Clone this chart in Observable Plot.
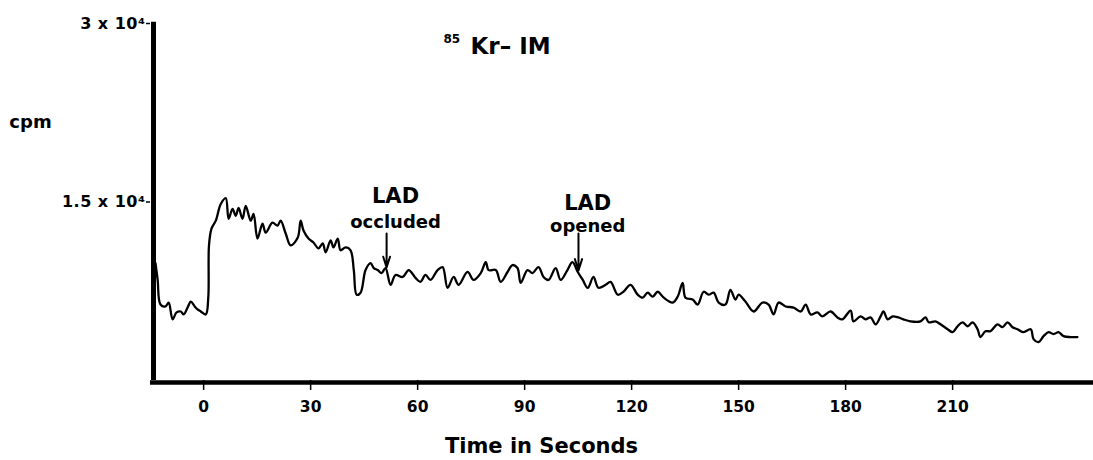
<!DOCTYPE html>
<html><head><meta charset="utf-8">
<script src="https://cdn.jsdelivr.net/npm/d3@7"></script>
<script src="https://cdn.jsdelivr.net/npm/@observablehq/plot@0.6"></script>
<style>
html,body{margin:0;padding:0;background:#fff;}
#chart svg{display:block;}
g[aria-label="y-axis tick label"] text{letter-spacing:0.5px;}
</style></head><body><div id="chart"></div>
<script>
// Time in seconds
const times = [
-13.5, -12.9, -12.1, -10.7, -9.8, -8.7, -7.6, -6.4, -5.6, -4.5,
-3.6, -2.5, -1.7, -0.8, 0.6, 1.3, 1.5, 2.2, 3.4, 4.8,
6.2, 7.0, 8.1, 9.0, 9.8, 10.9, 11.8, 13.2, 14.0, 15.1,
16.5, 17.4, 19.3, 20.7, 21.6, 23.0, 24.4, 26.4, 27.2, 28.0,
29.4, 30.8, 32.2, 33.4, 34.2, 35.6, 36.4, 37.6, 38.4, 39.8,
41.2, 42.1, 42.9, 44.0, 45.4, 46.8, 47.7, 48.8, 49.9, 51.0,
52.4, 53.8, 55.8, 57.5, 59.4, 60.8, 62.2, 63.6, 65.6, 67.0,
68.4, 70.1, 71.5, 74.0, 75.7, 77.7, 79.1, 79.9, 81.9, 83.3,
85.2, 86.6, 88.0, 88.9, 90.8, 92.2, 93.9, 95.3, 96.7, 98.7,
100.1, 102.0, 103.4, 104.9, 106.3, 107.7, 109.3, 110.7, 112.7, 114.1,
116.1, 117.7, 119.7, 121.7, 123.1, 124.5, 125.9, 127.3, 129.0, 131.5,
132.9, 134.3, 135.1, 137.1, 138.5, 140.2, 141.6, 143.0, 144.4, 146.3,
147.7, 149.1, 150.0, 151.9, 154.2, 156.7, 158.4, 159.8, 161.2, 163.2,
165.4, 167.4, 168.8, 170.2, 172.1, 173.5, 175.8, 177.7, 179.1, 181.4,
182.2, 184.2, 185.6, 187.0, 188.4, 189.8, 190.6, 191.8, 193.2, 194.8,
196.2, 198.2, 201.0, 202.4, 203.3, 205.2, 206.6, 208.6, 210.0, 211.4,
212.8, 214.2, 215.6, 217.0, 217.8, 219.2, 220.6, 222.6, 224.0, 225.4,
226.8, 228.2, 229.9, 231.9, 232.7, 234.1, 235.5, 236.9, 238.3, 239.7,
241.1, 243.1, 245.0
];
// Counts per minute
const counts = [
9860, 8450, 6380, 6220, 6550, 5140, 5720, 5800, 5550, 6130,
6630, 6220, 5970, 5800, 5550, 6960, 11350, 12760, 13430, 14830,
15330, 13590, 14420, 13840, 14500, 13590, 14670, 13430, 14000, 11930,
13180, 12430, 13260, 13010, 13430, 12350, 11350, 12020, 13430, 12600,
11930, 11600, 11100, 11520, 10770, 11770, 11190, 11930, 10940, 11190,
10940, 9280, 7210, 7380, 9280, 9860, 9450, 9280, 9030, 9450,
8040, 8870, 8700, 9280, 8620, 8290, 8870, 8450, 9280, 9530,
7790, 8700, 8040, 9120, 8450, 9030, 9940, 9280, 9280, 8290,
9120, 9700, 9450, 8200, 9280, 9030, 9530, 8700, 8450, 9450,
8450, 9280, 9940, 9120, 8450, 7790, 8700, 7790, 8040, 8290,
7210, 7460, 8040, 7210, 6960, 7380, 7040, 7460, 6960, 6550,
7040, 8200, 6960, 6800, 6380, 7460, 7210, 7380, 6550, 6380,
7620, 6800, 7210, 6630, 5800, 6550, 6380, 5550, 6550, 6220,
6130, 5800, 6380, 5550, 5720, 5390, 5800, 5300, 5140, 5880,
4970, 5390, 5140, 5300, 4720, 5390, 5800, 5140, 5390, 5300,
5140, 4970, 4970, 5300, 4890, 4970, 4720, 4310, 4060, 4560,
4890, 4560, 4890, 4310, 3650, 4140, 4140, 4720, 4480, 4890,
4480, 4310, 4060, 4310, 3480, 3230, 3730, 4060, 3900, 4060,
3730, 3650, 3650
];
const xTicks = [0, 30, 60, 90, 120, 150, 180, 210];
const yTicks = [15000, 30000];
const yTickLabels = ["1.5 x 10⁴", "3 x 10⁴"];
const xDomain = [-14.9, 249.5];
const yDomain = [0, 30000];

// Annotations
const eventWords = ["occluded", "opened"];
const eventTimes = [51.3, 105.1];
const eventLabelTimes = [53.8, 107.7];
const arrowTops = [12350, 12350];
const arrowTips = [9490, 9240];
const ladLabelY = [15450, 14900];
const wordLabelY = [13300, 12950];

const titleIsotope = "85";
const titleText = "Kr– IM";
const yLabel = "cpm";
const xLabel = "Time in Seconds";

const series = times.map((t, i) => ({t, c: counts[i]}));
const events = eventWords.map((w, i) => ({
  word: w, t: eventTimes[i], tl: eventLabelTimes[i],
  top: arrowTops[i], tip: arrowTips[i], ly: ladLabelY[i], wy: wordLabelY[i]
}));

const chart = Plot.plot({
  width: 1093, height: 460,
  marginLeft: 150, marginRight: 0, marginTop: 23, marginBottom: 80,
  style: {fontFamily: "DejaVu Sans", fontWeight: "bold", color: "#000", background: "#fff", overflow: "visible"},
  x: {domain: xDomain},
  y: {domain: yDomain},
  marks: [
    Plot.axisX({ticks: xTicks, tickSize: 10, tickPadding: 10, fontSize: 15.5, label: null, tickFormat: d => String(d), strokeWidth: 1.5}),
    Plot.axisY({ticks: yTicks, tickSize: 4, tickPadding: 1, fontSize: 16, label: null, strokeWidth: 1.5,
      tickFormat: d => yTickLabels[yTicks.indexOf(d)]}),
    Plot.ruleY([0], {strokeWidth: 4.5, dy: 2, stroke: "#000"}),
    Plot.ruleX([xDomain[0]], {y1: 0, y2: 30100, strokeWidth: 5, dx: 3, stroke: "#000"}),
    Plot.line(series, {x: "t", y: "c", curve: "catmull-rom", stroke: "#000", strokeWidth: 2.3}),
    Plot.arrow(events, {x1: "t", x2: "t", y1: "top", y2: "tip", stroke: "#000", strokeWidth: 2, headLength: 9, headAngle: 35}),
    Plot.text(events, {x: "tl", y: "ly", text: () => "LAD", fontSize: 21, fontWeight: "bold", lineAnchor: "middle", textAnchor: "middle", fill: "#000"}),
    Plot.text(events, {x: "tl", y: "wy", text: "word", fontSize: 18, fontWeight: "bold", lineAnchor: "middle", textAnchor: "middle", fill: "#000"}),
    Plot.text([titleIsotope], {frameAnchor: "top-left", dx: 293, dy: 16, fontSize: 12, fontWeight: "bold", textAnchor: "start", lineAnchor: "middle", fill: "#000"}),
    Plot.text([titleText], {frameAnchor: "top-left", dx: 320, dy: 23, fontSize: 23, fontWeight: "bold", textAnchor: "start", lineAnchor: "middle", fill: "#000"}),
    Plot.text([yLabel], {frameAnchor: "top-left", dx: -120, dy: 99, fontSize: 18, fontWeight: "bold", textAnchor: "middle", lineAnchor: "middle", fill: "#000"}),
    Plot.text([xLabel], {frameAnchor: "bottom-left", dx: 391, dy: 66, fontSize: 21, fontWeight: "bold", textAnchor: "middle", lineAnchor: "middle", fill: "#000"})
  ]
});
document.getElementById("chart").appendChild(chart);
</script>
</body></html>
